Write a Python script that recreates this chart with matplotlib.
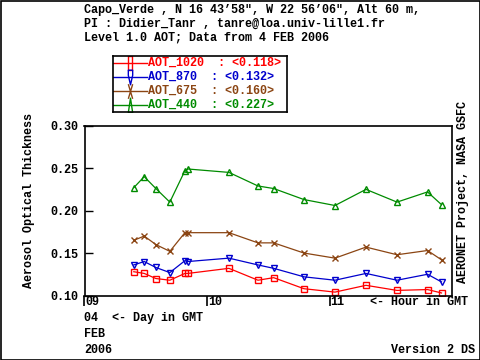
import matplotlib
matplotlib.use("Agg")
import matplotlib.pyplot as plt
from matplotlib.path import Path
from matplotlib.patches import Rectangle
import matplotlib.transforms as mtransforms

# ---------------- data ----------------
hours = [9.402, 9.487, 9.582, 9.696, 9.819, 9.843, 10.178, 10.415, 10.543,
         10.790, 11.043, 11.296, 11.549, 11.798, 11.912]
aot_1020 = [0.128, 0.126, 0.120, 0.118, 0.126, 0.126, 0.132, 0.118, 0.121,
            0.108, 0.104, 0.112, 0.106, 0.107, 0.103]
aot_870 = [0.136, 0.140, 0.133, 0.127, 0.141, 0.140, 0.144, 0.136, 0.132,
           0.122, 0.118, 0.126, 0.118, 0.125, 0.116]
aot_675 = [0.165, 0.170, 0.160, 0.152, 0.174, 0.174, 0.174, 0.162, 0.162,
           0.150, 0.144, 0.157, 0.148, 0.153, 0.142]
aot_440 = [0.227, 0.240, 0.226, 0.210, 0.247, 0.249, 0.245, 0.229, 0.226,
           0.213, 0.206, 0.225, 0.210, 0.222, 0.207]
series_names = ["AOT_1020", "AOT_870", "AOT_675", "AOT_440"]
series_means = ["0.118", "0.132", "0.160", "0.227"]
series_colors = ["#ff0000", "#0000cd", "#8b4513", "#008b00"]
xtick_vals = [9, 10, 11]
xtick_labels = ["09", "10", "11"]
ytick_vals = [0.10, 0.15, 0.20, 0.25, 0.30]
ytick_labels = ["0.10", "0.15", "0.20", "0.25", "0.30"]
title_lines = ["Capo_Verde , N 16 43\u201958\", W 22 56\u201906\", Alt 60 m,",
               "PI : Didier_Tanr , tanre@loa.univ-lille1.fr",
               "Level 1.0 AOT; Data from 4 FEB 2006"]

W, H = 480, 360
FONT = "Liberation Mono"
FS = 8.45

plt.rcParams['font.family'] = [FONT, 'DejaVu Sans Mono']
plt.rcParams['font.weight'] = 'bold'

fig = plt.figure(figsize=(W / 100, H / 100), dpi=100)
fig.patch.set_facecolor("white")


def fx(x):
    return x / W


def fy(y):
    return 1 - y / H


# figure border
fig.patches.append(Rectangle((fx(0.5), fy(359.5)), fx(479), 359 / H,
                             transform=fig.transFigure, fill=False,
                             edgecolor="black", linewidth=1.2))

L, R, T, B = 84.5, 452.3, 125.7, 295.5
ax = fig.add_axes([fx(L), fy(B), (R - L) / W, (B - T) / H])

small_markers = ["s", "v", "x", "^"]
series = [aot_1020, aot_870, aot_675, aot_440]
for vals, col, mk in zip(series, series_colors, small_markers):
    ax.plot(hours, vals, color=col, linewidth=0.9, marker=mk,
            markersize=4.2, markerfacecolor="none", markeredgecolor=col,
            markeredgewidth=1.0)

ax.set_xlim(9, 12)
ax.set_ylim(0.10, 0.30)
for s in ax.spines.values():
    s.set_linewidth(1.2)

ax.set_yticks(ytick_vals)
ax.set_yticklabels(ytick_labels, fontsize=FS, fontweight="bold")
ax.tick_params(axis="y", direction="in", length=5.5, width=1, pad=4.7,
               left=True, right=False)
ax.set_xticks(xtick_vals)
ax.set_xticklabels([])
ax.tick_params(axis="x", direction="out", length=7.5, width=1.2,
               bottom=True, top=False)

# x tick labels next to tick lines
blend = mtransforms.blended_transform_factory(ax.transData, fig.transFigure)
for v, lab in zip(xtick_vals, xtick_labels):
    ax.text(v + 0.008, fy(302), lab, transform=blend, ha="left", va="center",
            fontsize=FS, fontweight="bold")

ax.set_ylabel("Aerosol Optical Thickness", fontsize=FS, fontweight="bold")
ax.yaxis.set_label_coords(fx(35), fy(200), transform=fig.transFigure)

# titles
for i, line in enumerate(title_lines):
    fig.text(fx(84), fy(9.5 + 14.2 * i), line, ha="left", va="center",
             fontsize=FS, fontweight="bold")

# bottom annotations
fig.text(fx(370), fy(302), "<- Hour in GMT", ha="left", va="center",
         fontsize=FS, fontweight="bold")
fig.text(fx(84), fy(318), "04  <- Day in GMT", ha="left", va="center",
         fontsize=FS, fontweight="bold")
fig.text(fx(84), fy(334), "FEB", ha="left", va="center",
         fontsize=FS, fontweight="bold")
fig.text(fx(84), fy(350), "2006", ha="left", va="center",
         fontsize=FS, fontweight="bold")
fig.text(fx(475), fy(350), "Version 2 DS", ha="right", va="center",
         fontsize=FS, fontweight="bold")
fig.text(fx(463), fy(283), "AERONET Project, NASA GSFC", rotation=90,
         ha="center", va="bottom", fontsize=FS, fontweight="bold")

# legend (manual)
lax = fig.add_axes([fx(113), fy(112), (287 - 113) / W, (112 - 56) / H])
lax.set_xlim(113, 287)
lax.set_ylim(112, 56)
lax.set_xticks([])
lax.set_yticks([])
for s in lax.spines.values():
    s.set_linewidth(1.2)

rect_m = Path([(-0.3, -1), (0.3, -1), (0.3, 1), (-0.3, 1), (-0.3, -1)],
              [Path.MOVETO, Path.LINETO, Path.LINETO, Path.LINETO, Path.CLOSEPOLY])
down_m = Path([(-0.3, 1), (0.3, 1), (0.3, 0.3), (0, -1), (-0.3, 0.3), (-0.3, 1)],
              [Path.MOVETO, Path.LINETO, Path.LINETO, Path.LINETO, Path.LINETO,
               Path.CLOSEPOLY])
x_m = Path([(-0.3, -1), (0.3, 1), (-0.3, 1), (0.3, -1)],
           [Path.MOVETO, Path.LINETO, Path.MOVETO, Path.LINETO])
up_m = Path([(-0.3, -1), (0.3, -1), (0, 1), (-0.3, -1)],
            [Path.MOVETO, Path.LINETO, Path.LINETO, Path.CLOSEPOLY])
leg_markers = [rect_m, down_m, x_m, up_m]
rows = [62.7, 77, 91, 105]
for name, mean, col, mk, ry in zip(series_names, series_means, series_colors,
                                   leg_markers, rows):
    lax.plot([113, 147], [ry, ry], color=col, linewidth=1.0)
    lax.plot([130], [ry], marker=mk, markersize=10.5, markerfacecolor="none",
             markeredgecolor=col, markeredgewidth=1.0, linestyle="none")
    lax.text(147.5, ry, f"{name}  : <{mean}>", color=col, ha="left",
             va="center", fontsize=FS, fontweight="bold")

fig.savefig("out.png", dpi=100, facecolor="white")
